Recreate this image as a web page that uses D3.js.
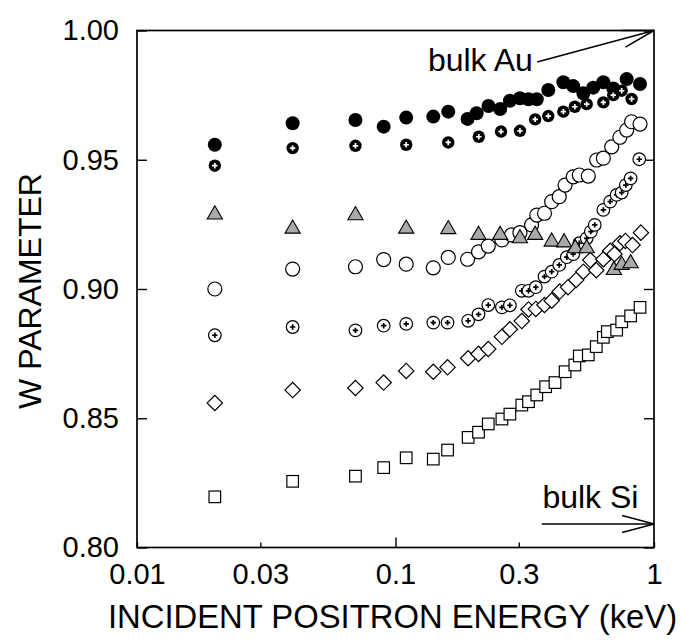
<!DOCTYPE html>
<html>
<head>
<meta charset="utf-8">
<script src="https://cdn.jsdelivr.net/npm/d3@7"></script>
<style>
  html, body { margin: 0; padding: 0; background: #fff; }
  svg text { font-family: "Liberation Sans", Arial, Helvetica, sans-serif; fill: #000; }
</style>
</head>
<body>
<svg id="chart" width="681" height="641"></svg>
<script>
// ---- data ----
const xTicks = [0.01, 0.03, 0.1, 0.3, 1];
const xTickLabels = ["0.01", "0.03", "0.1", "0.3", "1"];
const yTicks = [0.80, 0.85, 0.90, 0.95, 1.00];
const yTickLabels = ["0.80", "0.85", "0.90", "0.95", "1.00"];

const filledE = [0.02, 0.04, 0.07, 0.09, 0.11, 0.14, 0.16, 0.19, 0.206, 0.229, 0.254, 0.277, 0.303, 0.327, 0.352, 0.39, 0.446, 0.487, 0.533, 0.582, 0.637, 0.696, 0.784, 0.883];
const filledW = [0.9558, 0.9641, 0.9654, 0.9628, 0.9663, 0.9667, 0.9686, 0.9658, 0.968, 0.9708, 0.9696, 0.9728, 0.9738, 0.9734, 0.9734, 0.977, 0.980, 0.9785, 0.9757, 0.9779, 0.980, 0.9776, 0.9812, 0.9793];

const filledPlusE = [0.02, 0.04, 0.07, 0.11, 0.16, 0.21, 0.256, 0.303, 0.347, 0.39, 0.446, 0.494, 0.549, 0.637, 0.696, 0.75, 0.819];
const filledPlusW = [0.9477, 0.9545, 0.9554, 0.9558, 0.9567, 0.9589, 0.9609, 0.9612, 0.9656, 0.9669, 0.9686, 0.9705, 0.9715, 0.9722, 0.975, 0.9767, 0.9735];

const openE = [0.02, 0.04, 0.07, 0.09, 0.11, 0.14, 0.16, 0.19, 0.2095, 0.2285, 0.258, 0.281, 0.303, 0.336, 0.352, 0.377, 0.402, 0.43, 0.453, 0.487, 0.514, 0.557, 0.60, 0.637, 0.686, 0.738, 0.784, 0.819, 0.883];
const openW = [0.900, 0.9077, 0.9086, 0.9114, 0.9096, 0.9082, 0.9122, 0.9115, 0.9144, 0.9166, 0.919, 0.9209, 0.9218, 0.9248, 0.9286, 0.9293, 0.9338, 0.9357, 0.9402, 0.9434, 0.9441, 0.9437, 0.9499, 0.9506, 0.955, 0.9587, 0.9615, 0.9647, 0.9638];

const openPlusE = [0.02, 0.04, 0.07, 0.09, 0.11, 0.14, 0.159, 0.191, 0.2095, 0.2285, 0.258, 0.277, 0.308, 0.327, 0.349, 0.377, 0.402, 0.43, 0.46, 0.487, 0.514, 0.549, 0.57, 0.59, 0.637, 0.677, 0.717, 0.75, 0.778, 0.812, 0.877];
const openPlusW = [0.8821, 0.8853, 0.884, 0.8858, 0.8865, 0.887, 0.887, 0.8877, 0.8902, 0.8938, 0.8929, 0.8937, 0.8993, 0.8993, 0.9007, 0.9048, 0.9067, 0.9093, 0.9123, 0.9135, 0.9177, 0.9196, 0.9222, 0.9248, 0.9306, 0.9338, 0.9364, 0.9373, 0.9402, 0.9428, 0.9502];

const triE = [0.02, 0.04, 0.07, 0.11, 0.16, 0.2095, 0.254, 0.303, 0.347, 0.402, 0.449, 0.496, 0.549, 0.70, 0.75, 0.812];
const triW = [0.9288, 0.9233, 0.9285, 0.9233, 0.9231, 0.9209, 0.9209, 0.9196, 0.9209, 0.9183, 0.918, 0.9157, 0.9157, 0.9073, 0.9093, 0.9099];

const diamondE = [0.02, 0.04, 0.07, 0.09, 0.11, 0.14, 0.159, 0.191, 0.2095, 0.2285, 0.258, 0.277, 0.308, 0.327, 0.349, 0.377, 0.402, 0.432, 0.465, 0.50, 0.533, 0.567, 0.598, 0.637, 0.677, 0.703, 0.738, 0.775, 0.826, 0.89];
const diamondW = [0.8559, 0.8609, 0.8617, 0.8638, 0.8683, 0.868, 0.8697, 0.8732, 0.8749, 0.8768, 0.8815, 0.8844, 0.8876, 0.8921, 0.8923, 0.8938, 0.8955, 0.899, 0.9007, 0.9035, 0.9067, 0.9112, 0.9073, 0.9115, 0.9148, 0.9135, 0.9177, 0.9186, 0.917, 0.9218];

const squareE = [0.02, 0.04, 0.07, 0.09, 0.11, 0.14, 0.159, 0.191, 0.2095, 0.2285, 0.258, 0.277, 0.308, 0.327, 0.352, 0.381, 0.414, 0.453, 0.494, 0.514, 0.557, 0.598, 0.637, 0.66, 0.717, 0.75, 0.812, 0.883];
const squareW = [0.8196, 0.8256, 0.8276, 0.8309, 0.8347, 0.8342, 0.8377, 0.8426, 0.8446, 0.8478, 0.8497, 0.8516, 0.8551, 0.8564, 0.859, 0.8622, 0.8638, 0.868, 0.8706, 0.8741, 0.8745, 0.8777, 0.8813, 0.8835, 0.8841, 0.8873, 0.8896, 0.8929];

const bulkAu = { label: "bulk Au", textE: 0.340, textW: 0.9843, fromE: 0.353, fromW: 0.9878, toE: 1, toW: 1.00 };
const bulkSi = { label: "bulk Si", textE: 0.370, textW: 0.8153, fromE: 0.368, fromW: 0.8091, toE: 1, toW: 0.8091 };

const xTitle = "INCIDENT POSITRON ENERGY (keV)";
const yTitle = "W PARAMETER";

// ---- layout ----
const margin = { left: 137, top: 30.5, right: 27, bottom: 93.5 };
const W = 681, H = 641;
const iw = W - margin.left - margin.right; // 517
const ih = H - margin.top - margin.bottom; // 517

const svg = d3.select("#chart");
const g = svg.append("g").attr("transform", `translate(${margin.left},${margin.top})`);

const x = d3.scaleLog().domain([0.01, 1]).range([0, iw]);
const y = d3.scaleLinear().domain([0.80, 1.00]).range([ih, 0]);

const zip = (a, b) => a.map((v, i) => ({ e: v, w: b[i] }));

// ---- axes ----
const yAxisL = d3.axisLeft(y).tickValues(yTicks)
  .tickFormat((d, i) => yTickLabels[i]).tickSize(-10).tickPadding(18);
const gyl = g.append("g").call(yAxisL);
gyl.select(".domain").remove();
gyl.selectAll("text").attr("font-size", 29).style("font-family", "Liberation Sans, Arial, sans-serif");
gyl.selectAll("line").attr("stroke", "#000").attr("stroke-width", 1.4);

const yAxisR = d3.axisRight(y).tickValues(yTicks).tickFormat("").tickSize(-10);
const gyr = g.append("g").attr("transform", `translate(${iw},0)`).call(yAxisR);
gyr.select(".domain").remove();
gyr.selectAll("line").attr("stroke", "#000").attr("stroke-width", 1.4);

const xAxis = d3.axisBottom(x).tickValues(xTicks)
  .tickFormat((d, i) => xTickLabels[i]).tickSize(-5).tickPadding(16);
const gx = g.append("g").attr("transform", `translate(0,${ih})`).call(xAxis);
gx.select(".domain").remove();
gx.selectAll("text").attr("font-size", 29).style("font-family", "Liberation Sans, Arial, sans-serif");
gx.selectAll("line").attr("stroke", "#000").attr("stroke-width", 1.4)
  .attr("y2", d => d === 0.1 ? -10 : -5);

// frame
g.append("rect").attr("x", 0).attr("y", 0).attr("width", iw).attr("height", ih)
  .attr("fill", "none").attr("stroke", "#000").attr("stroke-width", 1.7);

// ---- series ----
const pos = d => `translate(${x(d.e)},${y(d.w)})`;

// squares
g.append("g").selectAll("rect").data(zip(squareE, squareW)).join("rect")
  .attr("x", d => x(d.e) - 5.8).attr("y", d => y(d.w) - 5.8)
  .attr("width", 11.6).attr("height", 11.6)
  .attr("fill", "#fff").attr("stroke", "#000").attr("stroke-width", 1.2);

// diamonds
g.append("g").selectAll("path").data(zip(diamondE, diamondW)).join("path")
  .attr("transform", d => pos(d) + " rotate(45)")
  .attr("d", d3.symbol().type(d3.symbolSquare).size(118)())
  .attr("fill", "#fff").attr("stroke", "#000").attr("stroke-width", 1.2);

// open circles with plus
const op = g.append("g").selectAll("g").data(zip(openPlusE, openPlusW)).join("g")
  .attr("transform", pos);
op.append("circle").attr("r", 6.3).attr("fill", "#fff").attr("stroke", "#000").attr("stroke-width", 1.2);
op.append("path").attr("d", "M-2.7,0H2.7M0,-2.7V2.7").attr("stroke", "#000").attr("stroke-width", 1.7);

// open circles
g.append("g").selectAll("circle").data(zip(openE, openW)).join("circle")
  .attr("cx", d => x(d.e)).attr("cy", d => y(d.w)).attr("r", 7)
  .attr("fill", "#fff").attr("stroke", "#000").attr("stroke-width", 1.2);

// triangles
g.append("g").selectAll("path").data(zip(triE, triW)).join("path")
  .attr("transform", pos)
  .attr("d", d3.symbol().type(d3.symbolTriangle).size(100)())
  .attr("fill", "#a9a9a9").attr("stroke", "#000").attr("stroke-width", 1.1);

// filled circles
g.append("g").selectAll("circle").data(zip(filledE, filledW)).join("circle")
  .attr("cx", d => x(d.e)).attr("cy", d => y(d.w)).attr("r", 7)
  .attr("fill", "#000");

// filled circles with plus
const fp = g.append("g").selectAll("g").data(zip(filledPlusE, filledPlusW)).join("g")
  .attr("transform", pos);
fp.append("circle").attr("r", 6.2).attr("fill", "#000");
fp.append("path").attr("d", "M-2.7,0H2.7M0,-2.7V2.7").attr("stroke", "#fff").attr("stroke-width", 1.7);

// ---- annotations ----
function arrow(a) {
  const x1 = x(a.fromE), y1 = y(a.fromW), x2 = x(a.toE), y2 = y(a.toW);
  const ang = Math.atan2(y2 - y1, x2 - x1);
  const L = 33, spread = 15 * Math.PI / 180;
  const ga = g.append("g").attr("stroke", "#000").attr("stroke-width", 1.5).attr("fill", "none");
  ga.append("line").attr("x1", x1).attr("y1", y1).attr("x2", x2).attr("y2", y2);
  [-spread, spread].forEach(s => {
    ga.append("line").attr("x1", x2).attr("y1", y2)
      .attr("x2", x2 - L * Math.cos(ang + s)).attr("y2", y2 - L * Math.sin(ang + s));
  });
}
arrow(bulkAu);
arrow(bulkSi);

g.append("text").attr("x", x(bulkAu.textE)).attr("y", y(bulkAu.textW))
  .attr("text-anchor", "end").attr("font-size", 32).text(bulkAu.label);
g.append("text").attr("x", x(bulkSi.textE)).attr("y", y(bulkSi.textW))
  .attr("text-anchor", "start").attr("font-size", 32).text(bulkSi.label);

// ---- titles ----
svg.append("text").attr("x", 392.5).attr("y", 628)
  .attr("text-anchor", "middle").attr("font-size", 32.8).text(xTitle);
svg.append("text").attr("transform", "translate(41,291) rotate(-90)")
  .attr("text-anchor", "middle").attr("font-size", 32).text(yTitle);
</script>
</body>
</html>
